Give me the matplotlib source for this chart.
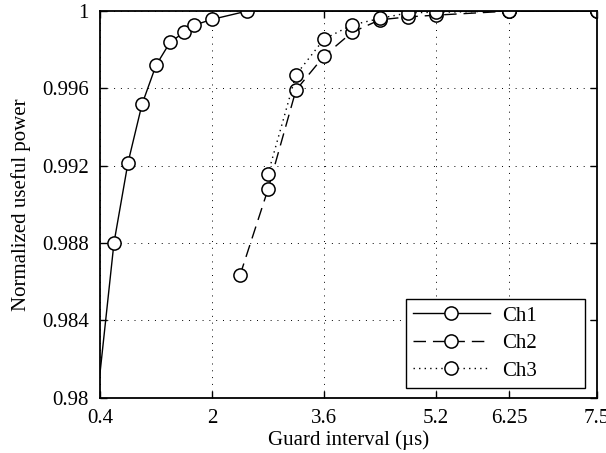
import matplotlib
matplotlib.use("Agg")
import matplotlib.pyplot as plt

plt.rcParams['font.family'] = ['Liberation Serif', 'DejaVu Serif']

ch1_x = [0.2, 0.6, 0.8, 1.0, 1.2, 1.4, 1.6, 1.75, 2.0, 2.5, 6.25, 7.5]
ch1_y = [0.9745, 0.98801, 0.99215, 0.99517, 0.99719, 0.99838, 0.99890, 0.99928, 0.99957, 1.0, 1.0, 1.0]
ch2_x = [2.4, 2.8, 3.2, 3.6, 4.0, 4.4, 4.8, 5.2, 6.25, 7.5]
ch2_y = [0.98632, 0.99077, 0.99591, 0.99767, 0.99890, 0.99955, 0.99970, 0.99979, 1.0, 1.0]
ch3_x = [2.8, 3.2, 3.6, 4.0, 4.4, 4.8, 5.2, 6.25, 7.5]
ch3_y = [0.99157, 0.99670, 0.99855, 0.99928, 0.99962, 0.99991, 0.99994, 1.0, 1.0]

xticks = [0.4, 2, 3.6, 5.2, 6.25, 7.5]
xtick_labels = ['0.4', '2', '3.6', '5.2', '6.25', '7.5']
yticks = [0.98, 0.984, 0.988, 0.992, 0.996, 1.0]
ytick_labels = ['0.98', '0.984', '0.988', '0.992', '0.996', '1']

fs = 15

fig = plt.figure(figsize=(6.06, 4.53), dpi=100)
ax = fig.add_axes([0.165, 0.1225, 0.82, 0.853])

mk = dict(marker='o', markersize=9.5, markerfacecolor='white', markeredgecolor='black',
          markeredgewidth=1.1, color='black', linewidth=1.0)
ax.plot(ch1_x, ch1_y, linestyle='-', label='Ch1', **mk)
ax.plot(ch2_x, ch2_y, linestyle=(0, (9, 5)), label='Ch2', **mk)
ax.plot(ch3_x, ch3_y, linestyle=(0, (1, 3)), label='Ch3', **mk)

ax.set_xlim(0.4, 7.5)
ax.set_ylim(0.98, 1.0)
ax.set_xticks(xticks)
ax.set_xticklabels(xtick_labels)
ax.set_yticks(yticks)
ax.set_yticklabels(ytick_labels)
ax.tick_params(direction='in', top=True, right=True, labelsize=fs, length=5, width=1.0)
ax.tick_params(axis='y', pad=8)
ax.tick_params(axis='x', pad=8)
ax.grid(True, linestyle=(0, (1, 6)), color='black', linewidth=0.7)
for s in ax.spines.values():
    s.set_linewidth(1.3)

ax.set_xlabel('Guard interval (µs)', fontsize=fs, labelpad=2)
ax.set_ylabel('Normalized useful power', fontsize=fs, labelpad=8)

leg = ax.legend(loc='lower left', bbox_to_anchor=(0.615, 0.0246, 0.361, 0.233), mode='expand',
                borderaxespad=0, fontsize=fs, handlelength=3.7, handletextpad=0.6,
                fancybox=False, framealpha=1, edgecolor='black', labelspacing=0.38,
                borderpad=0.35)
leg.get_frame().set_linewidth(1.0)

fig.savefig('out.png', dpi=100)
